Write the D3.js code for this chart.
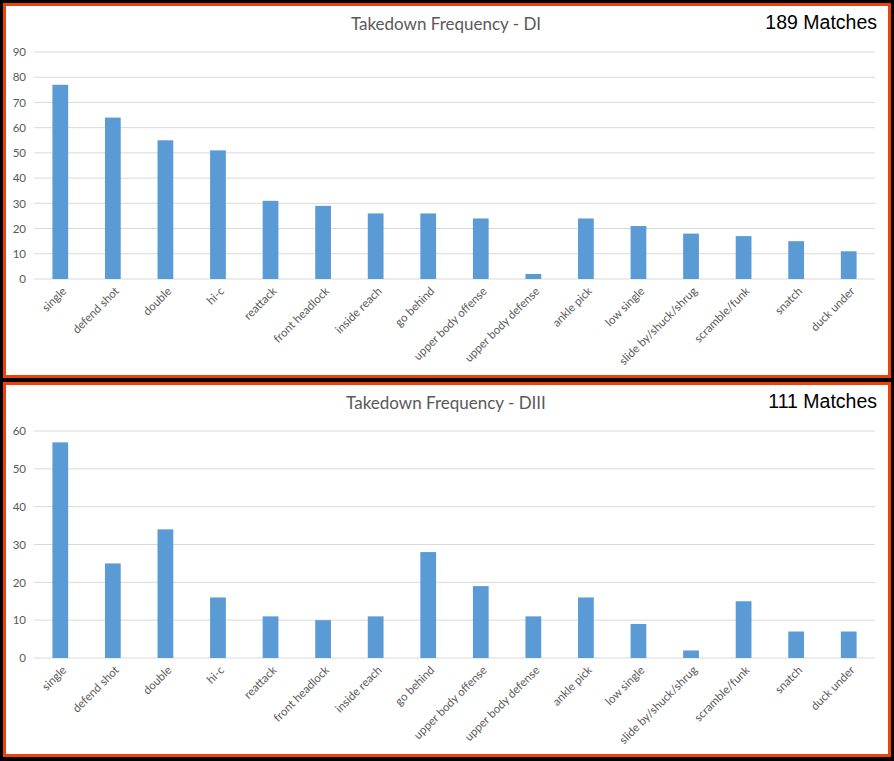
<!DOCTYPE html>
<html>
<head>
<meta charset="utf-8">
<script src="https://cdn.jsdelivr.net/npm/d3@7"></script>
<style>
  body { margin: 0; background: #000; }
  svg { display: block; }
</style>
</head>
<body>
<svg width="894" height="761"></svg>
<script>
// takedown types (same order in both charts)
const moves = ["single", "defend shot", "double", "hi-c", "reattack", "front headlock",
  "inside reach", "go behind", "upper body offense", "upper body defense", "ankle pick",
  "low single", "slide by/shuck/shrug", "scramble/funk", "snatch", "duck under"]

const diCounts = [77, 64, 55, 51, 31, 29, 26, 26, 24, 2, 24, 21, 18, 17, 15, 11]
const diiiCounts = [57, 25, 34, 16, 11, 10, 11, 28, 19, 11, 16, 9, 2, 15, 7, 7]

const diTicks = [0, 10, 20, 30, 40, 50, 60, 70, 80, 90]
const diiiTicks = [0, 10, 20, 30, 40, 50, 60]

const titles = ["Takedown Frequency - DI", "Takedown Frequency - DIII"]
const matchLabels = ["189 Matches", "111 Matches"]

const svg = d3.select("svg")
svg.append("rect").attr("width", 894).attr("height", 761).attr("fill", "#000")

function drawChart(top, counts, ticks, title, matches) {
  const g = svg.append("g").attr("transform", "translate(0," + top + ")")

  // orange frame + white panel
  g.append("rect").attr("x", 3).attr("y", 3).attr("width", 888).attr("height", 375).attr("fill", "#ee4208")
  g.append("rect").attr("x", 6).attr("y", 6).attr("width", 882).attr("height", 369).attr("fill", "#fff")

  const x = d3.scaleBand().domain(moves).range([34, 875]).paddingInner(0.7).paddingOuter(0.35)
  const y = d3.scaleLinear().domain([0, d3.max(ticks)]).range([279, 52])

  // gridlines
  g.selectAll(".grid").data(ticks).enter().append("line")
    .attr("x1", 34).attr("x2", 875)
    .attr("y1", d => y(d)).attr("y2", d => y(d))
    .attr("stroke", "#d9d9d9").attr("stroke-width", 1)

  const yAxis = g.append("g").attr("transform", "translate(30,0)")
    .call(d3.axisLeft(y).tickValues(ticks).tickSize(0).tickPadding(4))
  yAxis.select(".domain").remove()
  yAxis.selectAll("text").attr("fill", "#595959").style("font-family", "Lato, 'Open Sans', sans-serif").style("font-size", "11.5px")

  g.selectAll(".bar").data(counts).enter().append("rect")
    .attr("x", (d, i) => x(moves[i]))
    .attr("width", x.bandwidth())
    .attr("y", d => y(d))
    .attr("height", d => y(0) - y(d))
    .attr("fill", "#5b9bd5")

  g.selectAll(".xlab").data(moves).enter().append("text")
    .attr("transform", d => "translate(" + (x(d) + x.bandwidth() / 2 + 4) + ",289) rotate(-45)")
    .attr("text-anchor", "end")
    .attr("dy", "0.35em")
    .attr("fill", "#595959")
    .style("font-family", "Lato, 'Open Sans', sans-serif")
    .style("font-size", "11.5px")
    .text(d => d)

  g.append("text").attr("x", 446).attr("y", 30).attr("text-anchor", "middle")
    .attr("fill", "#595959").style("font-family", "Lato, 'Open Sans', sans-serif").style("font-size", "17px")
    .text(title)

  g.append("text").attr("x", 877).attr("y", 29).attr("text-anchor", "end")
    .attr("fill", "#000").style("font-family", "'Liberation Sans', Arial, sans-serif").style("font-size", "19.5px")
    .text(matches)
}

drawChart(0, diCounts, diTicks, titles[0], matchLabels[0])
drawChart(379, diiiCounts, diiiTicks, titles[1], matchLabels[1])
</script>
</body>
</html>
